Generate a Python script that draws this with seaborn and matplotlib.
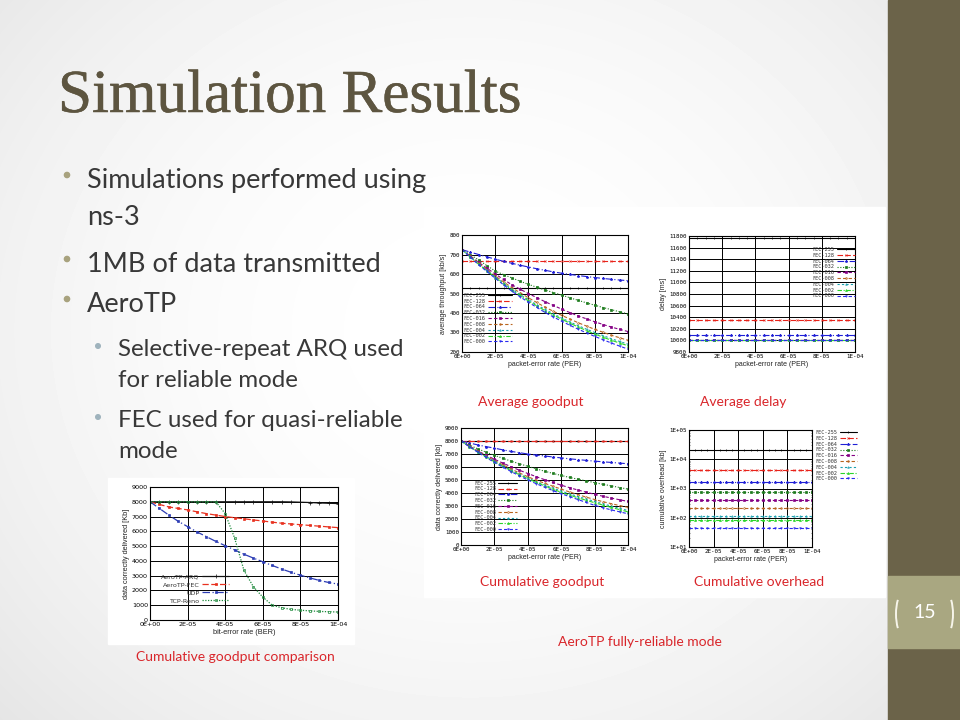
import matplotlib
matplotlib.use('Agg')
import matplotlib.pyplot as plt
import matplotlib.ticker as mticker
import matplotlib.patheffects as pe
from matplotlib.patches import Rectangle, Circle, Arc
import numpy as np
import seaborn as sns

# ---------------- data ----------------
per = [0.0, 0.5e-5, 1.0e-5, 1.5e-5, 2.0e-5, 2.5e-5, 3.0e-5, 3.5e-5, 4.0e-5, 4.5e-5,
       5.0e-5, 5.5e-5, 6.0e-5, 6.5e-5, 7.0e-5, 7.5e-5, 8.0e-5, 8.5e-5, 9.0e-5, 9.5e-5, 1.0e-4]

fec_names = ['FEC-255', 'FEC-128', 'FEC-064', 'FEC-032', 'FEC-016',
             'FEC-008', 'FEC-004', 'FEC-002', 'FEC-000']

# average throughput [kb/s]
thr_255 = [530] * len(per)
thr_128 = [665] * len(per)
thr_064 = [725, 712, 700, 688, 676, 665, 655, 645, 636, 627, 619, 611, 604, 598, 592, 587, 582, 577, 573, 569, 566]
thr_032 = [725, 699, 672, 643, 615, 597, 580, 563, 547, 532, 518, 505, 492, 478, 465, 452, 440, 428, 417, 406, 395]
thr_016 = [725, 692, 660, 630, 600, 572, 545, 522, 500, 479, 458, 439, 420, 402, 385, 370, 355, 341, 328, 316, 305]
thr_008 = [725, 690, 655, 622, 590, 560, 530, 504, 478, 454, 430, 409, 388, 369, 350, 333, 316, 301, 286, 273, 260]
thr_004 = [725, 688, 652, 618, 585, 553, 522, 495, 468, 443, 418, 396, 374, 354, 335, 317, 300, 284, 268, 254, 240]
thr_002 = [725, 687, 650, 616, 582, 550, 518, 490, 462, 437, 412, 390, 368, 348, 328, 310, 292, 276, 260, 246, 232]
thr_000 = [725, 686, 648, 613, 578, 545, 512, 483, 455, 429, 403, 380, 358, 337, 317, 298, 280, 263, 246, 230, 215]
throughput = [thr_255, thr_128, thr_064, thr_032, thr_016, thr_008, thr_004, thr_002, thr_000]

# average delay [ms] (flat per FEC setting)
delay_levels = [11770, 10350, 10088, 10000, 10000, 10000, 10000, 10000, 10000]

# cumulative data delivered [kb]
cum_255 = [8000] * len(per)
cum_128 = [8000] * len(per)
cum_064 = [8000, 7850, 7700, 7570, 7450, 7320, 7200, 7100, 7000, 6920, 6850, 6770, 6700, 6630, 6570, 6510, 6450, 6400, 6350, 6300, 6250]
cum_032 = [8000, 7690, 7400, 7140, 6900, 6670, 6450, 6250, 6050, 5860, 5680, 5510, 5350, 5200, 5060, 4930, 4800, 4670, 4550, 4420, 4300]
cum_016 = [8000, 7610, 7250, 6910, 6600, 6300, 6020, 5750, 5500, 5260, 5030, 4810, 4600, 4410, 4230, 4060, 3900, 3750, 3610, 3480, 3350]
cum_008 = [8000, 7590, 7200, 6840, 6500, 6170, 5850, 5540, 5250, 4990, 4750, 4520, 4300, 4080, 3880, 3680, 3500, 3330, 3180, 3030, 2900]
cum_004 = [8000, 7580, 7180, 6810, 6450, 6100, 5770, 5450, 5150, 4880, 4620, 4380, 4150, 3940, 3730, 3540, 3350, 3170, 2990, 2820, 2650]
cum_002 = [8000, 7570, 7160, 6770, 6400, 6050, 5720, 5400, 5100, 4820, 4550, 4300, 4050, 3840, 3630, 3440, 3250, 3070, 2890, 2720, 2550]
cum_000 = [8000, 7560, 7140, 6740, 6350, 5990, 5650, 5320, 5000, 4720, 4450, 4190, 3950, 3720, 3500, 3270, 3050, 2870, 2700, 2550, 2400]
cumulative = [cum_255, cum_128, cum_064, cum_032, cum_016, cum_008, cum_004, cum_002, cum_000]

# cumulative overhead [kb] (flat per FEC setting, log scale)
overhead_levels = [20000, 4400, 1700, 740, 390, 210, 115, 85, 43]

# goodput comparison vs bit-error rate
cmp_names = ['AeroTP-ARQ', 'AeroTP-FEC', 'UDP', 'TCP-Reno']
arq = [8000, 8000, 8000, 8000, 8000, 8000, 8000, 8000, 8000, 8000, 8000, 8000, 8000, 8000, 8000, 7990, 7970, 7950, 7920, 7900, 7880]
aero_fec = [8000, 7820, 7650, 7550, 7450, 7320, 7200, 7100, 7000, 6920, 6850, 6770, 6700, 6620, 6550, 6500, 6450, 6400, 6350, 6300, 6250]
udp = [8000, 7550, 7100, 6680, 6320, 5960, 5640, 5320, 5030, 4740, 4450, 4190, 3940, 3690, 3450, 3230, 3030, 2850, 2680, 2540, 2430]
tcp = [8000, 8000, 8000, 8000, 8000, 8000, 8000, 8000, 7200, 5550, 3350, 2250, 1550, 1000, 830, 720, 660, 620, 580, 560, 540]
comparison = [arq, aero_fec, udp, tcp]

# ---------------- styles ----------------
fec_styles = [
    dict(color='#000000', linestyle='-', marker='+', mfc='#000000', ms=2.0),
    dict(color='#e8231a', linestyle=(0, (5, 2)), marker='x', mfc='#e8231a', ms=1.4),
    dict(color='#1f1fd6', linestyle=(0, (6, 2, 1, 2)), marker='*', mfc='#1f1fd6', ms=1.8),
    dict(color='#1b7a1b', linestyle=(0, (1, 1.5)), marker='s', mfc='#1b7a1b', ms=1.7),
    dict(color='#840084', linestyle=(0, (3, 2)), marker='s', mfc='#840084', ms=1.7),
    dict(color='#b8641e', linestyle=(0, (3, 2)), marker='o', mfc='none', ms=1.2),
    dict(color='#1aa0b0', linestyle=(0, (2, 2)), marker='^', mfc='none', ms=1.2),
    dict(color='#2ad62a', linestyle=(0, (4, 1.5, 1, 1.5)), marker='^', mfc='#2ad62a', ms=1.4),
    dict(color='#2a2af0', linestyle=(0, (3, 2)), marker='v', mfc='none', ms=1.2),
]
cmp_styles = [
    dict(color='#111111', linestyle='-', marker='+', mfc='#111111', ms=2.2),
    dict(color='#e8311f', linestyle=(0, (5, 2)), marker='s', mfc='#e8311f', ms=1.6),
    dict(color='#2c3cb4', linestyle=(0, (6, 2, 1, 2)), marker='s', mfc='#2c3cb4', ms=1.6),
    dict(color='#1e8a3c', linestyle=(0, (1, 1.2)), marker='s', mfc='none', ms=2.0),
]

sns.set_theme(style='white')
plt.rcParams['font.family'] = ['DejaVu Sans']

W, H = 960, 720
fig = plt.figure(figsize=(W / 100, H / 100), dpi=100)

# slide background in pixel coordinates
bg = fig.add_axes([0, 0, 1, 1])
yy, xx = np.mgrid[0:H, 0:W]
r = np.hypot((xx - 470) / 640, (yy - 330) / 560)
shade = 1.0 - 0.10 * np.clip(r, 0, 1.4) ** 2
bg.imshow(shade, cmap='gray', vmin=0, vmax=1, extent=[0, W, H, 0], aspect='auto')
bg.set_xlim(0, W)
bg.set_ylim(H, 0)
bg.axis('off')

# white panels behind the pasted plots
bg.add_patch(Rectangle((424, 207), 461, 390, color='white', zorder=2))
bg.add_patch(Rectangle((108, 478), 246, 166, color='white', zorder=2))

# right sidebar with page number
bg.add_patch(Rectangle((888, 0), 72, H, color='#6b6349', zorder=3))
bg.add_patch(Rectangle((888, 576), 72, 72, color='#a9a781', zorder=4))
bg.add_patch(Arc((905.7, 614), 19.4, 48, theta1=119, theta2=241, color='#f7f5ea', lw=1.4, zorder=5))
bg.add_patch(Arc((943.3, 614), 19.4, 48, theta1=-61, theta2=61, color='#f7f5ea', lw=1.4, zorder=5))
bg.text(924.5, 613, '15', ha='center', va='center', color='white', fontsize=14,
        family='Lato', zorder=6)

# title
title_col = '#5d5540'
bg.text(58, 112, 'Simulation Results', ha='left', va='baseline', color=title_col,
        fontsize=44, family='Liberation Serif', zorder=5,
        path_effects=[pe.withStroke(linewidth=0.35, foreground=title_col)])

# bullets
text_col = '#383838'
lines = [
    (1, True, 188, 'Simulations performed using'),
    (1, False, 225, 'ns-3'),
    (1, True, 272, '1MB of data transmitted'),
    (1, True, 312, 'AeroTP'),
    (2, True, 356, 'Selective-repeat ARQ used'),
    (2, False, 387, 'for reliable mode'),
    (2, True, 427, 'FEC used for quasi-reliable'),
    (2, False, 458, 'mode'),
]
for level, dot, base, txt in lines:
    x0 = 87 if level == 1 else 118
    size = 19.5 if level == 1 else 17.4
    bg.text(x0, base, txt, ha='left', va='baseline', color=text_col, fontsize=size,
            family='Lato', zorder=5)
    if dot:
        if level == 1:
            bg.add_patch(Circle((67, base - 13), 2.6, color='#a8a27e', zorder=5))
        else:
            bg.add_patch(Circle((98, base - 10), 2.3, color='#9fb3bd', zorder=5))

# captions
cap_col = '#d9262b'
captions = [
    (531, 402, 'Average goodput'),
    (743, 402, 'Average delay'),
    (542, 582, 'Cumulative goodput'),
    (759, 582, 'Cumulative overhead'),
    (235, 657, 'Cumulative goodput comparison'),
    (640, 642, 'AeroTP fully-reliable mode'),
]
for cx, cy, txt in captions:
    bg.text(cx, cy, txt, ha='center', va='center', color=cap_col, fontsize=10,
            family='Lato', zorder=5)


def px_axes(left, top, right, bottom):
    return fig.add_axes([left / W, 1 - bottom / H, (right - left) / W, (bottom - top) / H])


def draw(ax, ys, names, styles, lw=0.8):
    for y, name, st in zip(ys, names, styles):
        sns.lineplot(x=per, y=y, ax=ax, color=st['color'], linestyle=st['linestyle'],
                     marker=st['marker'], markersize=st['ms'], markerfacecolor=st['mfc'],
                     markeredgecolor=st['color'], markeredgewidth=0.5,
                     linewidth=lw, label=name, legend=False)


def finish(ax, xlabel, ylabel, tick_size=4.2, label_size=5.0, tick_family='DejaVu Sans Mono'):
    ax.set_facecolor('white')
    ax.set_xlim(0, 1e-4)
    ax.set_xticks([0, 2e-5, 4e-5, 6e-5, 8e-5, 1e-4])
    ax.xaxis.set_major_formatter(mticker.FuncFormatter(lambda v, p: '%.0E' % v))
    ax.grid(True, color='black', linewidth=0.7)
    ax.set_axisbelow(True)
    for s in ax.spines.values():
        s.set_visible(True)
        s.set_color('black')
        s.set_linewidth(0.8)
    ax.tick_params(direction='in', length=2, width=0.5, top=True, right=True,
                   labelsize=tick_size, pad=1.5, colors='black', labelfontfamily=tick_family)
    ax.set_xlabel(xlabel, fontsize=label_size, labelpad=1.5, family='Liberation Sans', color='#222222')
    ax.set_ylabel(ylabel, fontsize=label_size, labelpad=1.5, family='Liberation Sans', color='#222222')


def legend(ax, loc, anchor, hl, fs=3.8, spacing=0.15, family='DejaVu Sans Mono'):
    h, l = ax.get_legend_handles_labels()
    lg = ax.legend(h, l, loc=loc, bbox_to_anchor=anchor, frameon=False, markerfirst=False,
                   handlelength=hl, labelspacing=spacing, borderpad=0,
                   borderaxespad=0, handletextpad=0.4, prop={'family': family, 'size': fs})
    for t in lg.get_texts():
        t.set_color('#333333')


# --- average goodput ---
ax1 = px_axes(462, 235, 628, 352)
draw(ax1, throughput, fec_names, fec_styles)
ax1.set_ylim(200, 800)
ax1.set_yticks(range(200, 801, 100))
finish(ax1, 'packet-error rate (PER)', 'average throughput [kb/s]')
legend(ax1, 'upper left', (0.01, 0.505), 4.6)

# --- average delay ---
ax2 = px_axes(689, 236, 855, 352)
draw(ax2, [[lvl] * len(per) for lvl in delay_levels], fec_names, fec_styles)
ax2.set_ylim(9800, 11800)
ax2.set_yticks(range(9800, 11801, 200))
finish(ax2, 'packet-error rate (PER)', 'delay [ms]')
legend(ax2, 'upper right', (1.0, 0.905), 3.5)

# --- cumulative goodput ---
ax3 = px_axes(461, 428, 628, 545)
draw(ax3, cumulative, fec_names, fec_styles)
ax3.set_ylim(0, 9000)
ax3.set_yticks(range(0, 9001, 1000))
finish(ax3, 'packet-error rate (PER)', 'data correctly delivered [kb]')
legend(ax3, 'upper left', (0.08, 0.55), 3.5)

# --- cumulative overhead ---
ax4 = px_axes(689, 430, 812, 547)
draw(ax4, [[lvl] * len(per) for lvl in overhead_levels], fec_names, fec_styles)
ax4.set_yscale('log')
ax4.set_ylim(10, 1e5)
finish(ax4, 'packet-error rate (PER)', 'cumulative overhead [kb]')
ax4.yaxis.set_major_formatter(mticker.FuncFormatter(lambda v, p: '%.0E' % v))
ax4.tick_params(axis='y', which='minor', direction='in', length=1, width=0.4, right=True, left=True)
legend(ax4, 'upper left', (1.03, 1.0), 3.2)

# --- cumulative goodput comparison ---
ax5 = px_axes(150, 487, 338, 620)
draw(ax5, comparison, cmp_names, cmp_styles, lw=0.9)
ax5.set_ylim(0, 9000)
ax5.set_yticks(range(0, 9001, 1000))
finish(ax5, 'bit-error rate (BER)', 'data correctly delivered [Kb]', tick_size=4.6, label_size=5.3,
       tick_family='DejaVu Sans')
legend(ax5, 'upper left', (0.06, 0.345), 4.2, fs=4.6, spacing=0.4, family='DejaVu Sans')

fig.savefig('out.png', dpi=100)
